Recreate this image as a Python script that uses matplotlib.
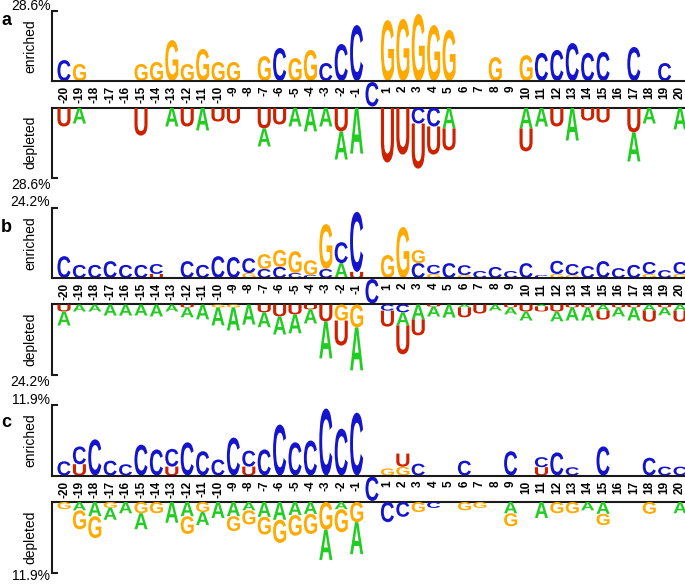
import matplotlib
matplotlib.use('Agg')
import matplotlib.pyplot as plt
from matplotlib.textpath import TextPath
from matplotlib.patches import PathPatch
from matplotlib.font_manager import FontProperties
from matplotlib.transforms import Affine2D

plt.rcParams['font.family'] = ['Liberation Sans', 'DejaVu Sans']

positions = list(range(-20, 21))
fixed_pos = 0
fixed_letter = 'C'

panel_names = ['a', 'b', 'c']
axis_max = [28.6, 24.2, 11.9]

# stacks are listed from the axis line outward: (residue, height in %)
a_enriched = {
    -20: [('C', 8.5)], -19: [('G', 6.9)], -15: [('G', 6.9)], -14: [('G', 7.7)],
    -13: [('G', 16.6)], -12: [('G', 6.9)], -11: [('G', 13.0)], -10: [('G', 7.7)],
    -9: [('G', 7.7)], -7: [('G', 10.1)], -6: [('C', 13.4)], -5: [('G', 9.3)],
    -4: [('G', 12.6)], -3: [('C', 7.3)], -2: [('C', 15.0)], -1: [('C', 22.7)],
    1: [('G', 24.7)], 2: [('G', 25.2)], 3: [('G', 27.2)], 4: [('G', 22.7)],
    5: [('G', 20.7)], 8: [('G', 9.7)], 10: [('G', 10.5)], 11: [('C', 11.4)],
    12: [('C', 12.6)], 13: [('C', 15.4)], 14: [('C', 11.4)], 15: [('C', 11.8)],
    17: [('C', 13.8)], 19: [('C', 7.3)],
}
a_depleted = {
    -20: [('U', 7.7)], -19: [('A', 6.5)], -15: [('U', 11.4)], -13: [('A', 7.7)],
    -12: [('U', 7.7)], -11: [('A', 9.3)], -10: [('U', 5.7)], -9: [('U', 6.5)],
    -7: [('U', 8.5), ('A', 7.3)], -6: [('U', 6.9)], -5: [('A', 7.7)],
    -4: [('A', 9.7)], -3: [('A', 7.7)], -2: [('U', 9.7), ('A', 11.4)],
    -1: [('A', 18.7)], 1: [('U', 22.3)], 2: [('U', 19.1)],
    3: [('C', 6.5), ('U', 18.3)], 4: [('C', 7.7), ('U', 11.4)],
    5: [('A', 8.5), ('U', 8.9)], 10: [('A', 8.5), ('U', 9.3)], 11: [('A', 7.7)],
    12: [('U', 7.7)], 13: [('A', 13.4)], 14: [('U', 5.3)], 15: [('U', 6.1)],
    17: [('U', 10.1), ('A', 11.8)], 18: [('A', 6.5)], 20: [('A', 8.9)],
}

b_enriched = {
    -20: [('C', 7.5)], -19: [('C', 4.5)], -18: [('C', 4.5)], -17: [('C', 5.8)],
    -16: [('C', 4.5)], -15: [('C', 4.5)], -14: [('U', 1.4), ('C', 3.4)],
    -12: [('C', 5.8)], -11: [('C', 4.5)], -10: [('C', 7.5)], -9: [('C', 7.2)],
    -8: [('G', 1.7), ('C', 5.1)], -7: [('C', 3.1), ('G', 5.1)],
    -6: [('C', 3.8), ('G', 5.8)], -5: [('C', 1.7), ('G', 7.5)],
    -4: [('C', 1.0), ('G', 5.1)], -3: [('C', 3.1), ('G', 15.4)],
    -2: [('A', 5.1), ('C', 7.2)], -1: [('U', 2.1), ('C', 20.6)],
    1: [('G', 7.9)], 2: [('G', 17.5)], 3: [('C', 5.1), ('G', 4.5)],
    4: [('G', 1.4), ('C', 3.1)], 5: [('C', 5.1)], 6: [('G', 1.0), ('C', 3.4)],
    7: [('C', 2.4)], 8: [('C', 3.8)], 9: [('C', 2.4)], 10: [('C', 5.1)],
    11: [('C', 1.0)], 12: [('G', 1.4), ('C', 4.5)], 13: [('G', 1.0), ('C', 3.8)],
    14: [('C', 4.1)], 15: [('C', 5.8)], 16: [('C', 3.4)], 17: [('C', 4.5)],
    18: [('G', 1.4), ('C', 4.1)], 19: [('C', 2.7)], 20: [('G', 1.4), ('C', 4.1)],
}
b_depleted = {
    -20: [('U', 2.4), ('A', 4.8)], -19: [('A', 2.4)], -18: [('A', 2.4)],
    -17: [('A', 3.8)], -16: [('A', 3.8)], -15: [('A', 3.8)], -14: [('A', 4.1)],
    -13: [('A', 2.4)], -12: [('U', 1.0), ('A', 3.4)], -11: [('A', 5.1)],
    -10: [('G', 1.0), ('A', 6.2)], -9: [('G', 1.0), ('A', 7.9)], -8: [('A', 6.9)],
    -7: [('U', 2.7), ('A', 5.1)], -6: [('U', 4.1), ('A', 6.2)],
    -5: [('U', 3.4), ('A', 6.5)], -4: [('U', 1.7), ('A', 4.8)],
    -3: [('U', 5.8), ('A', 12.7)], -2: [('G', 5.5), ('U', 8.6)],
    -1: [('G', 7.9), ('A', 14.7)], 1: [('C', 2.1), ('U', 5.5)],
    2: [('C', 2.7), ('A', 4.5), ('U', 9.9)], 3: [('A', 5.1), ('U', 5.5)],
    4: [('U', 0.7), ('A', 3.4)], 5: [('A', 4.5)], 6: [('A', 1.0), ('U', 3.4)],
    7: [('U', 3.1)], 8: [('A', 2.1)], 9: [('U', 1.0), ('A', 2.4)],
    10: [('U', 2.4), ('A', 3.1)], 11: [('A', 0.7), ('U', 1.7)],
    12: [('U', 2.4), ('A', 3.4)], 13: [('U', 1.0), ('A', 4.5)],
    14: [('U', 1.0), ('A', 4.5)], 15: [('A', 2.1), ('U', 3.1)],
    16: [('U', 1.0), ('A', 3.1)], 17: [('U', 1.0), ('A', 4.5)],
    18: [('A', 2.1), ('U', 3.8)], 19: [('U', 1.0), ('A', 2.7)],
    20: [('A', 2.1), ('U', 3.8)],
}

c_enriched = {
    -20: [('C', 2.4)], -19: [('U', 1.9), ('C', 3.0)], -18: [('C', 6.1)],
    -17: [('C', 2.5)], -16: [('C', 1.9)], -15: [('C', 5.2)], -14: [('C', 4.4)],
    -13: [('U', 1.5), ('C', 3.0)], -12: [('C', 5.6)], -11: [('C', 4.1)],
    -10: [('C', 2.7)], -9: [('C', 6.4)], -8: [('U', 1.5), ('C', 2.7)],
    -7: [('C', 4.4)], -6: [('C', 8.6)], -5: [('C', 5.6)], -4: [('C', 5.9)],
    -3: [('C', 11.3)], -2: [('C', 7.9)], -1: [('C', 10.6)],
    1: [('G', 1.2)], 2: [('G', 1.5), ('U', 2.2)], 3: [('C', 2.0)], 6: [('C', 2.5)],
    9: [('C', 4.1)], 11: [('U', 1.4), ('C', 1.7)], 12: [('C', 3.9)],
    13: [('C', 1.4)], 15: [('C', 4.9)], 18: [('C', 3.0)], 19: [('C', 1.5)],
    20: [('C', 1.5)],
}
c_depleted = {
    -20: [('G', 1.2)], -19: [('A', 1.4), ('G', 3.2)], -18: [('A', 2.4), ('G', 3.7)],
    -17: [('G', 1.0), ('A', 2.0)], -16: [('A', 1.9)], -15: [('G', 1.9), ('A', 2.7)],
    -14: [('G', 1.9)], -13: [('A', 3.5)], -12: [('A', 2.4), ('G', 3.0)],
    -11: [('G', 1.7), ('A', 2.2)], -10: [('A', 2.7)], -9: [('A', 2.4), ('G', 2.5)],
    -8: [('A', 1.4), ('G', 2.4)], -7: [('A', 2.5), ('G', 3.0)],
    -6: [('A', 3.0), ('G', 3.9)], -5: [('A', 2.2), ('G', 3.5)],
    -4: [('A', 2.0), ('G', 3.4)], -3: [('G', 4.7), ('A', 5.1)],
    -2: [('A', 1.2), ('G', 3.9)], -1: [('G', 3.4), ('A', 5.4)],
    1: [('C', 3.4)], 2: [('C', 2.5)], 3: [('G', 1.7)], 4: [('C', 1.0)],
    6: [('G', 1.4)], 7: [('G', 1.0)], 9: [('A', 1.9), ('G', 2.2)], 11: [('A', 2.7)],
    12: [('G', 1.9)], 13: [('G', 1.9)], 14: [('A', 1.4)],
    15: [('A', 2.0), ('G', 1.9)], 18: [('G', 2.0)], 20: [('A', 1.9)],
}

enriched = [a_enriched, b_enriched, c_enriched]
depleted = [a_depleted, b_depleted, c_depleted]

colors = {'C': '#1414cc', 'G': '#ffaa00', 'A': '#22cc22', 'U': '#cc2200'}
LETTER_FONT = FontProperties(family='Liberation Sans', weight='bold')
_paths = {}


def letter_path(ch):
    if ch not in _paths:
        _paths[ch] = TextPath((0, 0), ch, size=1, prop=LETTER_FONT)
    return _paths[ch]


def draw_letter(ax, ch, x, y0, h, w=0.85):
    """Stretch a glyph into the box [x-w/2, x+w/2] x [y0, y0+h]"""
    path = letter_path(ch)
    bb = path.get_extents()
    tr = (Affine2D().translate(-bb.x0, -bb.y0)
          .scale(w / bb.width, h / bb.height)
          .translate(x - w / 2, y0))
    ax.add_patch(PathPatch(tr.transform_path(path), facecolor=colors[ch],
                           edgecolor='none', lw=0))


def draw_stacks(ax, stacks, direction):
    for p, stack in stacks.items():
        y = 0
        for ch, h in stack:
            if direction > 0:
                draw_letter(ax, ch, p, y, h)
            else:
                draw_letter(ax, ch, p, -y - h, h)
            y += h


# layout in pixels
W, H = 685, 584
left_px = 52.3
up_h, box_h = 70.5, 26.5
panel_top = [10.5, 207.5, 405]
label_base = [25, 231.5, 427]
bottom_label_off = [-7, -7, -4]
xlim = (-20.76, 20.32)
line_kw = dict(lw=1.5, color='#1a1a1a')

fig = plt.figure(figsize=(W / 100, H / 100), dpi=100)

for i, name in enumerate(panel_names):
    top = panel_top[i]
    ymax = axis_max[i]
    axw = (W - left_px) / W
    ax_up = fig.add_axes([left_px / W, 1 - (top + up_h) / H, axw, up_h / H])
    ax_box = fig.add_axes([left_px / W, 1 - (top + up_h + box_h) / H, axw, box_h / H])
    ax_dn = fig.add_axes([left_px / W, 1 - (top + 2 * up_h + box_h) / H, axw, up_h / H])

    for ax in (ax_up, ax_box, ax_dn):
        ax.set_xlim(*xlim)
        ax.set_xticks([])
        ax.patch.set_alpha(0)
        for s in ax.spines.values():
            s.set_linewidth(line_kw['lw'])
            s.set_color(line_kw['color'])
        ax.spines['right'].set_visible(False)

    ax_up.set_ylim(0, ymax)
    ax_up.spines['top'].set_visible(False)
    ax_up.spines['bottom'].set_visible(False)
    ax_up.set_yticks([ymax])
    ax_dn.set_ylim(-ymax, 0)
    ax_dn.spines['top'].set_visible(False)
    ax_dn.spines['bottom'].set_visible(False)
    ax_dn.set_yticks([-ymax])
    for ax in (ax_up, ax_dn):
        ax.tick_params(axis='y', direction='in', length=4, width=1.5,
                       color=line_kw['color'], labelleft=False)

    ax_box.set_ylim(0, 1)
    ax_box.set_yticks([])
    ax_box.spines['left'].set_visible(False)

    draw_stacks(ax_up, enriched[i], 1)
    draw_stacks(ax_dn, depleted[i], -1)
    draw_letter(ax_box, fixed_letter, fixed_pos, 0.04, 0.92)

    for p in positions:
        if p == fixed_pos:
            continue
        ax_box.text(p, 1 - 5 / box_h, str(p), rotation=90, ha='center', va='top',
                    fontsize=8.5, fontweight='bold')

    pct = f'{ymax}%'
    ax_up.annotate(pct, xy=(0, 1), xycoords='axes fraction', xytext=(-2, 5),
                   textcoords='offset pixels', ha='right', va='center', fontsize=10)
    ax_dn.annotate(pct, xy=(0, 0), xycoords='axes fraction',
                   xytext=(-2, bottom_label_off[i]),
                   textcoords='offset pixels', ha='right', va='center', fontsize=10)
    ax_up.annotate('enriched', xy=(0, 0.5), xycoords='axes fraction', xytext=(-22, 0),
                   textcoords='offset pixels', rotation=90, ha='center', va='center',
                   fontsize=10)
    ax_dn.annotate('depleted', xy=(0, 0.5), xycoords='axes fraction', xytext=(-22, 0),
                   textcoords='offset pixels', rotation=90, ha='center', va='center',
                   fontsize=10)

    fig.text(1 / W, 1 - label_base[i] / H, name, fontsize=13, fontweight='bold',
             va='baseline', ha='left')

fig.savefig('out.png', dpi=100)
